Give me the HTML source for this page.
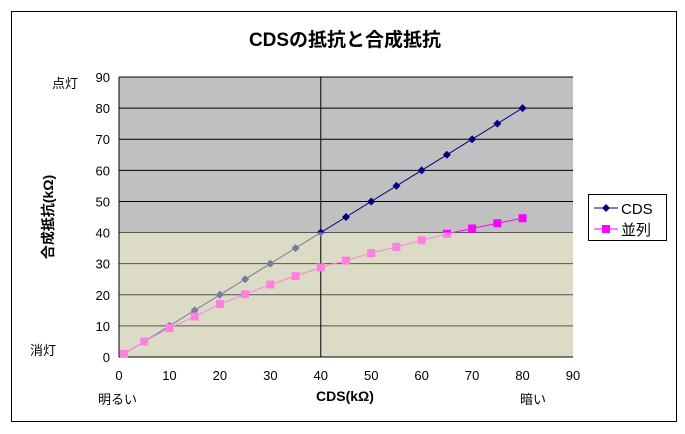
<!DOCTYPE html>
<html><head><meta charset="utf-8"><style>
body{margin:0;background:#fff;width:685px;height:434px;overflow:hidden}
svg{display:block;font-family:"Liberation Sans","Noto Sans CJK JP",sans-serif}
</style></head><body>
<svg id="c" width="685" height="434">
<rect x="11.5" y="11.5" width="665" height="410" fill="#fff" stroke="#000"/>
<text x="345" y="46" font-size="19" font-weight="bold" text-anchor="middle">CDSの抵抗と合成抵抗</text>
</svg>
<script>
const xVals=[1,5,10,15,20,25,30,35,40,45,50,55,60,65,70,75,80];
const cdsVals=[1,5,10,15,20,25,30,35,40,45,50,55,60,65,70,75,80];
const parVals=[1,5,9.3,13,17,20.2,23.3,26,28.8,31,33.4,35.4,37.5,39.6,41.3,43,44.6];
const ticks=[0,10,20,30,40,50,60,70,80,90];
const NS="http://www.w3.org/2000/svg",svg=document.getElementById('c');
const X0=119,X1=573,Y0=357,Y1=77;
const sx=v=>X0+(X1-X0)*v/90, sy=v=>Y0-(Y0-Y1)*v/90;
function mk(t,a,p){const e=document.createElementNS(NS,t);for(const k in a)e.setAttribute(k,a[k]);(p||svg).appendChild(e);return e;}
const defs=mk('defs',{});
const cu=mk('clipPath',{id:'up'},defs);mk('rect',{x:0,y:0,width:685,height:sy(40)},cu);
const cl=mk('clipPath',{id:'lo'},defs);mk('rect',{x:0,y:sy(40),width:685,height:434},cl);
const up=mk('rect',{x:X0,y:Y1,width:X1-X0,height:sy(40)-Y1,fill:'#c0c0c0'});


const lo=mk('rect',{x:X0,y:sy(40),width:X1-X0,height:Y0-sy(40),fill:'#dcdcc6'});


ticks.forEach(t=>{if(t>0){const g=mk('line',{x1:X0,x2:X1,y1:sy(t),y2:sy(t),stroke:t>40?'#000':'#555','stroke-width':1});

}
const yl=mk('text',{x:X0-9,y:sy(t)+5,'font-size':13,'text-anchor':'end'});yl.textContent=t;


const xl=mk('text',{x:sx(t),y:Y0+23,'font-size':13,'text-anchor':'middle'});xl.textContent=t;

});
const vl=mk('line',{x1:sx(40),x2:sx(40),y1:Y1,y2:Y0,stroke:'#000'});


mk('line',{x1:X0,x2:X0,y1:Y1,y2:Y0,stroke:'#000'});mk('line',{x1:X0,x2:X1,y1:Y0,y2:Y0,stroke:'#000'});
function series(vals,name,cUp,cLo,shape){[['up',cUp],['lo',cLo]].forEach(([cp,col])=>{
const g=mk('g',{'clip-path':`url(#${cp})`});
const pl=mk('polyline',{points:xVals.map((x,i)=>sx(x)+','+sy(vals[i])).join(' '),fill:'none',stroke:col,'stroke-width':1},g);


xVals.forEach((x,i)=>{const cx=sx(x),cy=sy(vals[i]);let m;
if(shape==='d')m=mk('polygon',{points:`${cx},${cy-4} ${cx+4},${cy} ${cx},${cy+4} ${cx-4},${cy}`,fill:col},g);
else m=mk('rect',{x:cx-4,y:cy-4,width:8,height:8,fill:col},g);

});});}
series(cdsVals,'cds','#000080','#7878a0','d');
series(parVals,'parallel','#ff00ff','#ff80e0','s');
function txt(s,x,y,sz,o){const t=mk('text',Object.assign({x,y,'font-size':sz},o||{}));t.textContent=s;return t;}
let t=txt('CDS(kΩ)',345,401,14,{'font-weight':'bold','text-anchor':'middle'});


t=txt('合成抵抗(kΩ)',0,0,14,{'font-weight':'bold','text-anchor':'middle',transform:'translate(53,217) rotate(-90)'});


t=txt('点灯',52,88,13);
t=txt('消灯',30,355,13);
t=txt('明るい',98,404,13);
t=txt('暗い',520,404,13);
const lg=mk('rect',{x:588.5,y:194.5,width:78,height:46,fill:'#fff',stroke:'#000'});


mk('line',{x1:594,x2:618,y1:208,y2:208,stroke:'#000080'});mk('polygon',{points:'606,204 610,208 606,212 602,208',fill:'#000080'});
t=txt('CDS',621,214,15);
mk('line',{x1:594,x2:618,y1:229,y2:229,stroke:'#ff00ff'});mk('rect',{x:602,y:225,width:8,height:8,fill:'#ff00ff'});
t=txt('並列',621,235,15);
</script>
</body></html>
